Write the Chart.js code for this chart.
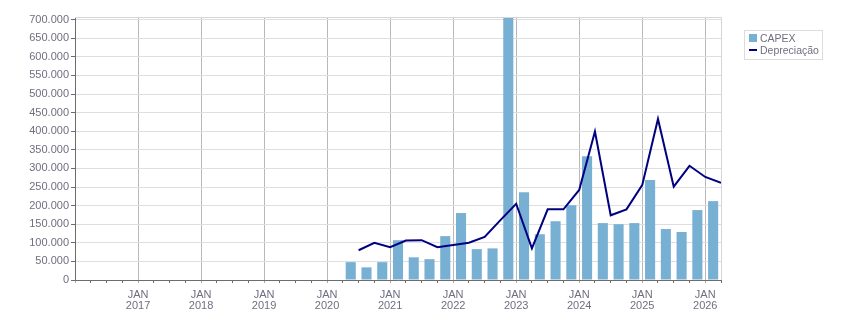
<!DOCTYPE html>
<html lang="pt">
<head>
    <meta charset="UTF-8">
    <title>CAPEX x Depreciação</title>
    <script src="https://cdn.jsdelivr.net/npm/chart.js"></script>
    <style>
        body {
            margin: 0;
            background-color: #ffffff;
        }
        #wrap {
            width: 851px;
            height: 313px;
        }
    </style>
</head>
<body>
    <div id="wrap"><canvas id="capexChart"></canvas></div>
    <script>
        // trimestres (ano-trimestre)
        const quarters = [
            '2020-2', '2020-3', '2020-4',
            '2021-1', '2021-2', '2021-3', '2021-4',
            '2022-1', '2022-2', '2022-3', '2022-4',
            '2023-1', '2023-2', '2023-3', '2023-4',
            '2024-1', '2024-2', '2024-3', '2024-4',
            '2025-1', '2025-2', '2025-3', '2025-4',
            '2026-1'
        ];
        const capex = [
            48000, 34000, 48000,
            107000, 61000, 56000, 118000,
            180000, 83000, 85000, 720000,
            236000, 123000, 158000, 201000,
            333000, 153000, 150000, 153000,
            269000, 137000, 129000, 188000,
            212000
        ];
        const depreciacao = [
            80000, 100000, 88000,
            106000, 107000, 88000, 94000,
            100000, 116000, 161000, 205000,
            85000, 190000, 190000, 242000,
            399000, 174000, 190000, 255000,
            433000, 251000, 307000, 277000,
            261000
        ];
        const yTicks = [0, 50000, 100000, 150000, 200000, 250000, 300000, 350000,
                        400000, 450000, 500000, 550000, 600000, 650000, 700000];
        const yearLabels = ['2017', '2018', '2019', '2020', '2021', '2022', '2023', '2024', '2025', '2026'];

        const textColor = '#6f6f80';
        const axisColor = '#6d6d6d';
        const barColor = '#78b0d4';
        const lineColor = '#000080';
        const fontFamily = '"Liberation Sans", Arial, sans-serif';

        function quarterStart(q) {
            const parts = q.split('-');
            return Number(parts[0]) + (Number(parts[1]) - 1) / 4;
        }

        const barPoints = quarters.map((q, i) => ({ x: quarterStart(q) + 0.125, y: capex[i] }));
        const linePoints = quarters.map((q, i) => ({ x: quarterStart(q) + 0.25, y: depreciacao[i] }));

        function fmt(v) {
            return String(v).replace(/\B(?=(\d{3})+(?!\d))/g, '.');
        }

        // borda clara do topo/direita + legenda em caixa
        const framePlugin = {
            id: 'frame',
            afterDraw(chart) {
                const c = chart.ctx;
                const a = chart.chartArea;
                c.save();
                c.strokeStyle = '#d6d6d6';
                c.lineWidth = 1;
                c.beginPath();
                c.moveTo(a.left, Math.round(a.top) + 0.5);
                c.lineTo(Math.round(a.right) + 0.5, Math.round(a.top) + 0.5);
                c.lineTo(Math.round(a.right) + 0.5, a.bottom);
                c.stroke();

                // legenda
                const lx = 744, ly = 30;
                c.strokeStyle = '#dcdcdc';
                c.strokeRect(lx + 0.5, ly + 0.5, 78, 29);
                c.font = '10.5px ' + fontFamily;
                c.textBaseline = 'middle';
                c.fillStyle = barColor;
                c.fillRect(lx + 5, ly + 4, 8, 8);
                c.fillStyle = textColor;
                c.fillText(chart.data.datasets[1].label, lx + 16, ly + 9);
                c.strokeStyle = lineColor;
                c.lineWidth = 2;
                c.beginPath();
                c.moveTo(lx + 5, ly + 20);
                c.lineTo(lx + 13, ly + 20);
                c.stroke();
                c.fillText(chart.data.datasets[0].label, lx + 16, ly + 21);
                c.restore();
            }
        };

        const ctx = document.getElementById('capexChart').getContext('2d');
        const capexChart = new Chart(ctx, {
            type: 'bar',
            data: {
                datasets: [
                    {
                        type: 'line',
                        label: 'Depreciação',
                        data: linePoints,
                        borderColor: lineColor,
                        backgroundColor: lineColor,
                        borderWidth: 2,
                        pointRadius: 0,
                        tension: 0,
                        order: 0
                    },
                    {
                        type: 'bar',
                        label: 'CAPEX',
                        data: barPoints,
                        backgroundColor: barColor,
                        borderWidth: 0,
                        categoryPercentage: 1,
                        barPercentage: 0.64,
                        order: 1
                    }
                ]
            },
            options: {
                responsive: true,
                maintainAspectRatio: false,
                animation: false,
                layout: {
                    padding: { left: 0, top: 17, right: 130, bottom: 0 }
                },
                plugins: {
                    legend: { display: false },
                    tooltip: { enabled: false }
                },
                scales: {
                    x: {
                        type: 'linear',
                        min: 2016,
                        max: 2026.25,
                        offset: false,
                        afterFit: (scale) => { scale.height = 33; },
                        afterBuildTicks: (scale) => {
                            const t = [];
                            for (let k = 0; k <= 41; k++) t.push({ value: 2016 + k / 4 });
                            scale.ticks = t;
                        },
                        grid: {
                            offset: false,
                            drawOnChartArea: true,
                            tickLength: 3,
                            color: (c) => (c.tick && Number.isInteger(c.tick.value) && c.tick.value > 2016) ? '#b8b8b8' : 'rgba(0,0,0,0)',
                            tickColor: (c) => (c.tick && Number.isInteger(c.tick.value)) ? '#a8a8a8' : axisColor
                        },
                        border: { color: axisColor, width: 1 },
                        ticks: {
                            autoSkip: false,
                            maxRotation: 0,
                            padding: 6,
                            color: textColor,
                            font: { size: 11, family: fontFamily, lineHeight: 1.05 },
                            callback: (v) => {
                                const y = String(Math.round(v));
                                if (Number.isInteger(v) && yearLabels.includes(y)) return ['JAN', y];
                                return '';
                            }
                        }
                    },
                    y: {
                        min: 0,
                        max: 707000,
                        afterFit: (scale) => { scale.width = 75; },
                        afterBuildTicks: (scale) => {
                            scale.ticks = yTicks.map(v => ({ value: v }));
                        },
                        grid: {
                            color: '#dedede',
                            tickLength: 4,
                            tickColor: axisColor
                        },
                        border: { color: axisColor, width: 1 },
                        ticks: {
                            padding: 2,
                            color: textColor,
                            font: { size: 11, family: fontFamily },
                            callback: (v) => fmt(v)
                        }
                    }
                }
            },
            plugins: [framePlugin]
        });
    </script>
</body>
</html>
